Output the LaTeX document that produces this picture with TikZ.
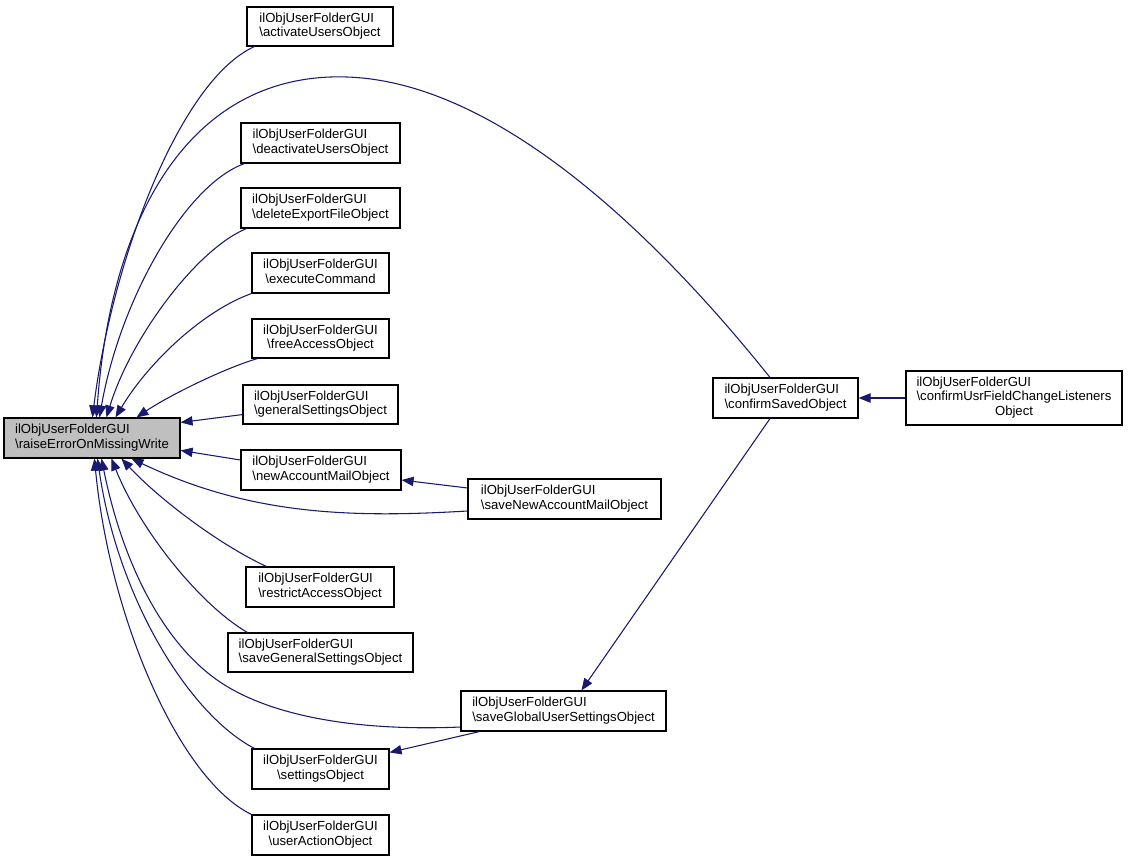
\documentclass[tikz,border=0pt]{standalone}
\usepackage{fontspec}
\setmainfont{Liberation Sans}
\usetikzlibrary{arrows.meta,calc}
\definecolor{edgeblue}{HTML}{191970}
\definecolor{hlgray}{HTML}{BFBFBF}
\newcommand\twol[2]{\begin{tabular}{@{}l@{}}#1\\\multicolumn{1}{@{}c@{}}{#2}\end{tabular}}
\newcommand\bs{\textbackslash}
\begin{document}
\begin{tikzpicture}[x=0.75pt,y=-0.75pt,
  fbox/.style={draw=black,line width=0.85pt,fill=white,inner sep=0pt,
    font=\fontsize{9.85}{11}\selectfont},
  call/.style={draw=edgeblue,line width=0.8pt,-{Triangle[length=9pt,width=7pt]}}]
\useasboundingbox (0,0) rectangle (1128,861);
\fill[white] (0,0) rectangle (1128,861);
% nodes
\node[fbox,fill=hlgray,minimum width=132pt,minimum height=30pt] (raise) at (92,438) {\twol{ilObjUserFolderGUI}{\bs raiseErrorOnMissingWrite}};
\node[fbox,minimum width=109.5pt,minimum height=29.25pt] (activate) at (320,26.5) {\twol{ilObjUserFolderGUI}{\bs activateUsersObject}};
\node[fbox,minimum width=119.25pt,minimum height=30pt] (deactivate) at (320.5,143) {\twol{ilObjUserFolderGUI}{\bs deactivateUsersObject}};
\node[fbox,minimum width=119.25pt,minimum height=30pt] (deleteexp) at (320.5,208) {\twol{ilObjUserFolderGUI}{\bs deleteExportFileObject}};
\node[fbox,minimum width=102.75pt,minimum height=30pt] (execute) at (320.5,273) {\twol{ilObjUserFolderGUI}{\bs executeCommand}};
\node[fbox,minimum width=102.75pt,minimum height=29.25pt] (freeaccess) at (320.5,338.5) {\twol{ilObjUserFolderGUI}{\bs freeAccessObject}};
\node[fbox,minimum width=116.25pt,minimum height=29.25pt] (gensettings) at (320.5,404.5) {\twol{ilObjUserFolderGUI}{\bs generalSettingsObject}};
\node[fbox,minimum width=120pt,minimum height=30pt] (newmail) at (321,470) {\twol{ilObjUserFolderGUI}{\bs newAccountMailObject}};
\node[fbox,minimum width=111pt,minimum height=30pt] (restrict) at (320,587) {\twol{ilObjUserFolderGUI}{\bs restrictAccessObject}};
\node[fbox,minimum width=138.75pt,minimum height=29.25pt] (savegen) at (320.5,652.5) {\twol{ilObjUserFolderGUI}{\bs saveGeneralSettingsObject}};
\node[fbox,minimum width=102.75pt,minimum height=30pt] (settings) at (320.5,769) {\twol{ilObjUserFolderGUI}{\bs settingsObject}};
\node[fbox,minimum width=102.75pt,minimum height=30pt] (useraction) at (320.5,835) {\twol{ilObjUserFolderGUI}{\bs userActionObject}};
\node[fbox,minimum width=108.75pt,minimum height=30pt] (confirmsaved) at (785.5,398) {\twol{ilObjUserFolderGUI}{\bs confirmSavedObject}};
\node[fbox,minimum width=162pt,minimum height=40.5pt] (confirmusr) at (1014,398) {\begin{tabular}{@{}l@{}}ilObjUserFolderGUI\\\bs confirmUsrFieldChangeListeners\\\multicolumn{1}{@{}c@{}}{Object}\end{tabular}};
\node[fbox,minimum width=144.75pt,minimum height=30pt] (savenewmail) at (564.5,499) {\twol{ilObjUserFolderGUI}{\bs saveNewAccountMailObject}};
\node[fbox,minimum width=153.75pt,minimum height=30pt] (saveglobal) at (563.5,711) {\twol{ilObjUserFolderGUI}{\bs saveGlobalUserSettingsObject}};
% edges to raise (top)
\draw[call] ($(activate.south west)+(8,0)$) .. controls (180,80) and (112,260) .. ($(raise.north west)+(89,0)$);
\draw[call] ($(confirmsaved.north)+(-15.5,0)$) .. controls (660,240) and (500,82) .. (347,77) .. controls (200,72) and (112,200) .. ($(raise.north west)+(93,0)$);
\draw[call] ($(deactivate.south west)+(4,0)$) .. controls (185,185) and (120,300) .. ($(raise.north west)+(96,0)$);
\draw[call] ($(deleteexp.south west)+(6,0)$) .. controls (195,250) and (130,340) .. ($(raise.north west)+(103,0)$);
\draw[call] (execute.south west) .. controls (205,310) and (150,360) .. ($(raise.north west)+(112,0)$);
\draw[call] ($(freeaccess.south west)+(6,0)$) .. controls (225,368) and (170,395) .. ($(raise.north west)+(133,0)$);
\draw[call] ($(gensettings.south west)+(0,-10)$) -- ($(raise.north east)+(0,5)$);
\draw[call] ($(newmail.west)+(0,-10)$) -- ($(raise.north east)+(0,33)$);
% edges to raise (bottom)
\draw[call] ($(savenewmail.west)+(0,12)$) .. controls (350,518) and (250,515) .. ($(raise.south west)+(128,0)$);
\draw[call] ($(restrict.north west)+(21,0)$) .. controls (220,545) and (160,500) .. ($(raise.south west)+(118,0)$);
\draw[call] ($(savegen.north west)+(20,0)$) .. controls (200,605) and (140,530) .. ($(raise.south west)+(108,0)$);
\draw[call] ($(saveglobal.west)+(0,16)$) .. controls (370,731) and (270,720) .. (213,677) .. controls (160,637) and (122,560) .. ($(raise.south west)+(98,0)$);
\draw[call] ($(settings.north west)+(3,0)$) .. controls (190,715) and (118,600) .. ($(raise.south west)+(94,0)$);
\draw[call] (useraction.north west) .. controls (180,780) and (110,620) .. ($(raise.south west)+(91,0)$);
% other edges
\draw[call] ($(savenewmail.west)+(0,-11)$) -- ($(newmail.east)+(0,10)$);
\draw[call] ($(saveglobal.south west)+(19,0)$) -- ($(settings.north east)+(0,4)$);
\draw[call] ($(confirmsaved.south)+(-15.5,0)$) -- ($(saveglobal.north west)+(121,0)$);
\draw[call] (confirmusr.west) -- (confirmsaved.east);
\end{tikzpicture}
\end{document}
